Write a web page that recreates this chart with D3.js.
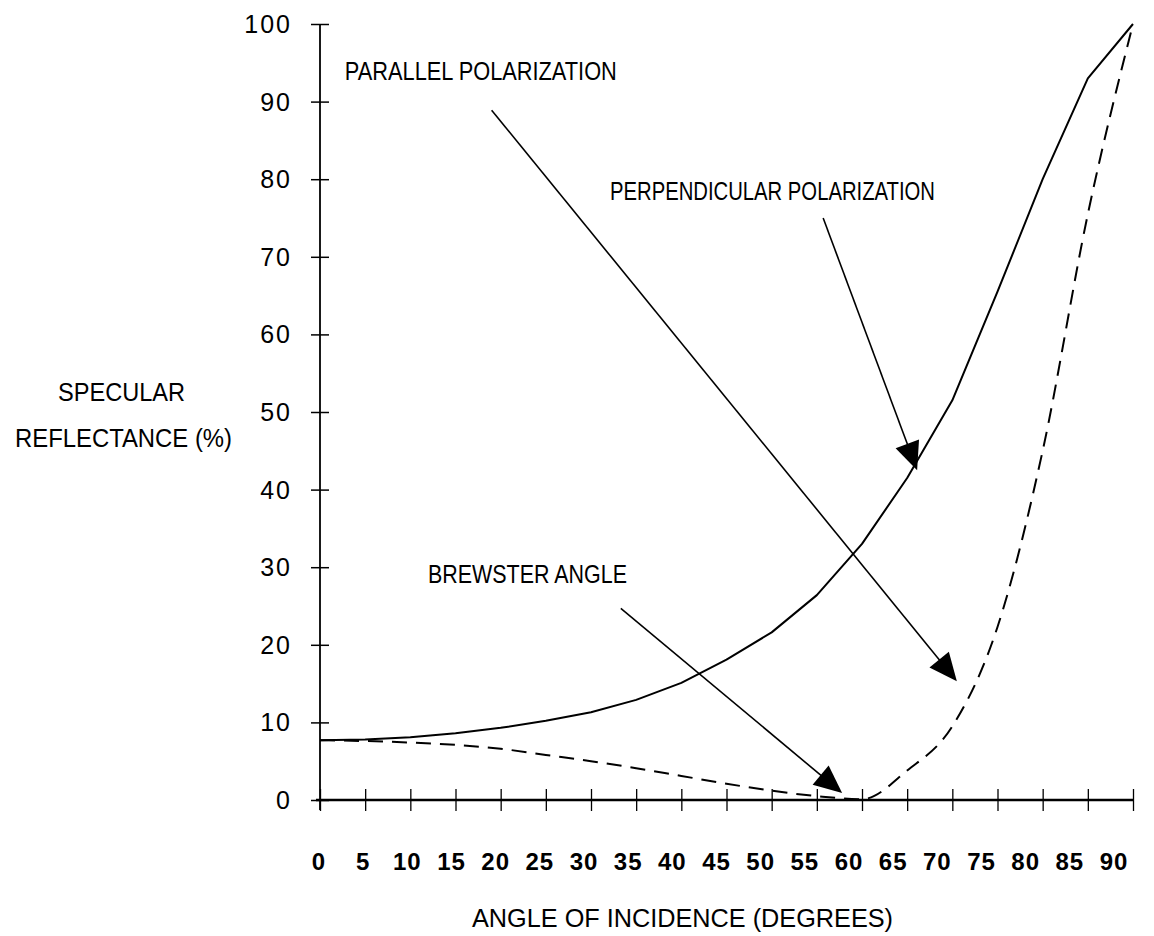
<!DOCTYPE html>
<html>
<head>
<meta charset="utf-8">
<script src="https://cdn.jsdelivr.net/npm/d3@7"></script>
<style>
  html, body { margin: 0; padding: 0; background: #fff; }
  svg { display: block; }
  .lbl { font-family: "Liberation Sans Narrow", "Arial Narrow", "Liberation Sans", sans-serif; fill: #000; }
  .tick-num { font-family: "Liberation Sans", Arial, sans-serif; fill: #000; }
</style>
</head>
<body>
<svg id="chart" width="1154" height="936"></svg>
<script>
// ---- data ----
const angles = [0, 5, 10, 15, 20, 25, 30, 35, 40, 45, 50, 55, 60, 65, 70, 75, 80, 85, 90];
const perpendicularR = [7.7, 7.8, 8.1, 8.6, 9.3, 10.2, 11.3, 12.9, 15.1, 18.1, 21.6, 26.4, 33.0, 41.5, 51.5, 65.5, 80.0, 93.0, 100];
const parallelR = [7.7, 7.6, 7.4, 7.1, 6.6, 5.8, 5.0, 4.1, 3.1, 2.1, 1.2, 0.5, 0.1, 3.8, 9.5, 22.3, 45.0, 75.5, 100];
const xTickValues = [0, 5, 10, 15, 20, 25, 30, 35, 40, 45, 50, 55, 60, 65, 70, 75, 80, 85, 90];
const yTickValues = [0, 10, 20, 30, 40, 50, 60, 70, 80, 90, 100];
const xTitle = "ANGLE OF INCIDENCE (DEGREES)";
const yTitleLines = ["SPECULAR", "REFLECTANCE (%)"];
const noteTexts = ["PARALLEL POLARIZATION", "PERPENDICULAR POLARIZATION", "BREWSTER ANGLE"];

// ---- layout ----
const svg = d3.select("#chart");
const x = d3.scaleLinear().domain([0, 90]).range([320, 1133]);
const y = d3.scaleLinear().domain([0, 100]).range([800, 24]);
const xLabel = d3.scaleLinear().domain([0, 90]).range([319, 1114]);

// axes
const yAxis = svg.append("g").attr("transform", `translate(${x(0)},0)`)
  .call(d3.axisLeft(y).tickValues(yTickValues).tickSize(0).tickFormat(""));
yAxis.select(".domain").attr("stroke", "#000").attr("stroke-width", 1.8).attr("d", `M0,${y(100)}V${y(0) + 10}`);
yAxis.selectAll(".tick line").attr("x1", -9).attr("x2", 9).attr("stroke", "#000").attr("stroke-width", 1.5);

const xAxis = svg.append("g").attr("transform", `translate(0,${y(0)})`)
  .call(d3.axisBottom(x).tickValues(xTickValues).tickSize(0).tickFormat(""));
xAxis.select(".domain").attr("stroke", "#000").attr("stroke-width", 2.4).attr("d", `M${x(0) - 4},0H${x(90)}`);
xAxis.selectAll(".tick line").attr("y1", -11).attr("y2", 11).attr("stroke", "#000").attr("stroke-width", 1.3);

// tick labels
svg.append("g").selectAll("text").data(yTickValues).join("text")
  .attr("class", "tick-num")
  .attr("x", 292).attr("y", d => y(d)).attr("dy", "0.36em")
  .attr("text-anchor", "end")
  .attr("font-size", 25).attr("letter-spacing", 2)
  .text(d => d);

svg.append("g").selectAll("text").data(xTickValues).join("text")
  .attr("class", "tick-num")
  .attr("x", d => xLabel(d)).attr("y", 870)
  .attr("text-anchor", "middle")
  .attr("font-size", 24).attr("font-weight", "bold").attr("letter-spacing", 1)
  .text(d => d);

// axis titles
svg.append("text").attr("class", "lbl")
  .attr("x", 472).attr("y", 927).attr("font-size", 26)
  .attr("textLength", 421).attr("lengthAdjust", "spacingAndGlyphs")
  .text(xTitle);
svg.append("text").attr("class", "lbl")
  .attr("x", 58).attr("y", 401).attr("font-size", 26)
  .attr("textLength", 127).attr("lengthAdjust", "spacingAndGlyphs")
  .text(yTitleLines[0]);
svg.append("text").attr("class", "lbl")
  .attr("x", 15).attr("y", 447).attr("font-size", 26)
  .attr("textLength", 217).attr("lengthAdjust", "spacingAndGlyphs")
  .text(yTitleLines[1]);

// curves
const line = d3.line().x((d, i) => x(angles[i])).y(d => y(d));
const smooth = d3.line().x((d, i) => x(angles[i])).y(d => y(d)).curve(d3.curveMonotoneX);
svg.append("path").datum(perpendicularR)
  .attr("d", line).attr("fill", "none").attr("stroke", "#000").attr("stroke-width", 2)
  .attr("stroke-linejoin", "round");
svg.append("path").datum(parallelR)
  .attr("d", smooth).attr("fill", "none").attr("stroke", "#000").attr("stroke-width", 2)
  .attr("stroke-dasharray", "15,9");

// annotations (in data units)
const notes = [
  { text: noteTexts[0], tx: 2.75, ty: 92.8, w: 272, from: [19.0, 88.9], to: [70.5, 15.3] },
  { text: noteTexts[1], tx: 32.1, ty: 77.3, w: 325, from: [55.7, 75.0], to: [66.1, 42.5] },
  { text: noteTexts[2], tx: 11.95, ty: 27.95, w: 199, from: [33.3, 24.7], to: [57.8, 0.9] }
];
const ng = svg.append("g");
notes.forEach(n => {
  ng.append("text").attr("class", "lbl")
    .attr("x", x(n.tx)).attr("y", y(n.ty)).attr("font-size", 25)
    .attr("textLength", n.w).attr("lengthAdjust", "spacingAndGlyphs")
    .text(n.text);
  const x1 = x(n.from[0]), y1 = y(n.from[1]), x2 = x(n.to[0]), y2 = y(n.to[1]);
  const dx = x2 - x1, dy = y2 - y1, len = Math.hypot(dx, dy);
  const ux = dx / len, uy = dy / len;
  const hl = 28, hw = 12.5;
  const bx = x2 - ux * hl, by = y2 - uy * hl;
  ng.append("line").attr("x1", x1).attr("y1", y1).attr("x2", bx + ux * 4).attr("y2", by + uy * 4)
    .attr("stroke", "#000").attr("stroke-width", 1.6);
  ng.append("path")
    .attr("d", `M${x2},${y2}L${bx - uy * hw},${by + ux * hw}L${bx + uy * hw},${by - ux * hw}Z`)
    .attr("fill", "#000");
});
</script>
</body>
</html>
